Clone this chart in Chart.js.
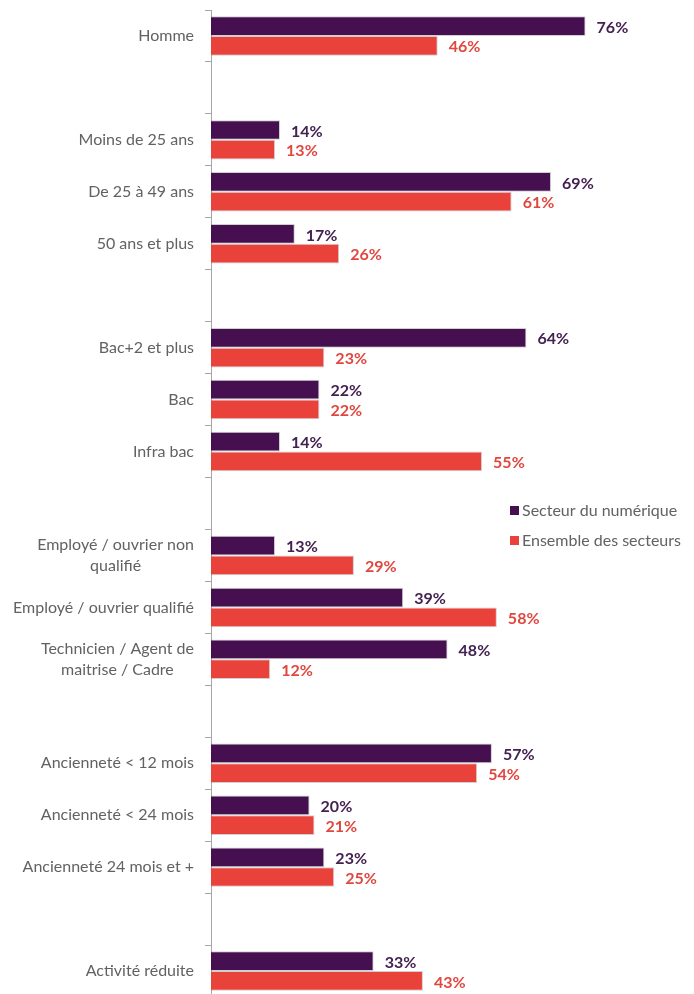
<!DOCTYPE html>
<html lang="fr">
<head>
<meta charset="utf-8">
<title>Secteur du numérique</title>
<script src="https://cdn.jsdelivr.net/npm/chart.js@4.4.1/dist/chart.umd.min.js"></script>
<style>
  html, body { margin: 0; padding: 0; background: #fff; overflow: hidden; }
  #wrap { width: 694px; height: 1000px; position: relative; }
</style>
</head>
<body>
<div id="wrap"><canvas id="profilChart"></canvas></div>
<script>
// ── Data ────────────────────────────────────────────────────────────────────
// '' = empty separator row between groups
const categories = [
  'Homme', '',
  'Moins de 25 ans', 'De 25 à 49 ans', '50 ans et plus', '',
  'Bac+2 et plus', 'Bac', 'Infra bac', '',
  ['Employé / ouvrier non', 'qualifié'], 'Employé / ouvrier qualifié', ['Technicien / Agent de', 'maitrise / Cadre'], '',
  'Ancienneté < 12 mois', 'Ancienneté < 24 mois', 'Ancienneté 24 mois et +', '',
  'Activité réduite'
];
const seriesNames = ['Secteur du numérique', 'Ensemble des secteurs'];
const numerique = [76, null, 14, 69, 17, null, 64, 22, 14, null, 13, 39, 48, null, 57, 20, 23, null, 33];
const ensemble  = [46, null, 13, 61, 26, null, 23, 22, 55, null, 29, 58, 12, null, 54, 21, 25, null, 43];

const FONT = "Lato, 'Open Sans', sans-serif";
const barColors   = ['#461050', '#e8423b'];
const labelColors = ['#432150', '#e0473f'];
const GREY = '#626262';

// ── Category labels (right aligned, multi-line blocks centred) ──────────────
const categoryLabels = {
  id: 'categoryLabels',
  afterDraw(chart) {
    const ctx = chart.ctx;
    const y = chart.scales.y;
    const right = 194;
    ctx.save();
    ctx.font = '16px ' + FONT;
    ctx.fillStyle = GREY;
    ctx.textBaseline = 'middle';
    categories.forEach((lab, i) => {
      if (!lab) return;
      const cy = y.getPixelForValue(i);
      if (Array.isArray(lab)) {
        const widest = Math.max(...lab.map(l => ctx.measureText(l).width));
        const cx = right - widest / 2;
        const lh = 21;
        ctx.textAlign = 'center';
        lab.forEach((l, k) => ctx.fillText(l, cx, cy + (k - (lab.length - 1) / 2) * lh));
      } else {
        ctx.textAlign = 'right';
        ctx.fillText(lab, right, cy);
      }
    });
    ctx.restore();
  }
};

// ── Value labels at the end of each bar ─────────────────────────────────────
const valueLabels = {
  id: 'valueLabels',
  afterDatasetsDraw(chart) {
    const ctx = chart.ctx;
    ctx.save();
    ctx.font = 'bold 16px ' + FONT;
    ctx.textAlign = 'left';
    ctx.textBaseline = 'middle';
    chart.data.datasets.forEach((ds, di) => {
      const meta = chart.getDatasetMeta(di);
      ctx.fillStyle = labelColors[di];
      meta.data.forEach((bar, i) => {
        const v = ds.data[i];
        if (v === null) return;
        ctx.fillText(v + '%', bar.x + 11, bar.y + 1.5);
      });
    });
    ctx.restore();
  }
};

// ── Legend inside the plot ──────────────────────────────────────────────────
const innerLegend = {
  id: 'innerLegend',
  afterDraw(chart) {
    const ctx = chart.ctx;
    ctx.save();
    ctx.font = '16px ' + FONT;
    ctx.textBaseline = 'middle';
    ctx.textAlign = 'left';
    seriesNames.forEach((name, i) => {
      const ly = 511 + i * 30;
      ctx.fillStyle = barColors[i];
      ctx.fillRect(510, ly - 5, 9, 9);
      ctx.fillStyle = GREY;
      ctx.fillText(name, 522, ly);
    });
    ctx.restore();
  }
};

// ── Chart ───────────────────────────────────────────────────────────────────
new Chart(document.getElementById('profilChart'), {
  type: 'bar',
  data: {
    labels: categories,
    datasets: [
      { label: seriesNames[0], data: numerique, backgroundColor: barColors[0], borderColor: 'rgba(120,120,120,0.35)', borderWidth: 1 },
      { label: seriesNames[1], data: ensemble,  backgroundColor: barColors[1], borderColor: 'rgba(120,120,120,0.35)', borderWidth: 1 }
    ]
  },
  options: {
    indexAxis: 'y',
    responsive: true,
    maintainAspectRatio: false,
    animation: false,
    categoryPercentage: 0.76,
    barPercentage: 1.0,
    layout: { padding: { top: 10, bottom: 3, left: 0, right: 0 } },
    plugins: {
      legend: { display: false },
      tooltip: { enabled: false }
    },
    scales: {
      x: { display: false, min: 0, max: 98 },
      y: {
        ticks: { display: false },
        grid: { drawOnChartArea: false, drawTicks: true, tickLength: 6, color: '#a6a6a6', offset: true },
        border: { display: true, color: '#a6a6a6', width: 1 },
        afterFit(scale) { scale.width = 211; }
      }
    }
  },
  plugins: [categoryLabels, valueLabels, innerLegend]
});
</script>
</body>
</html>
